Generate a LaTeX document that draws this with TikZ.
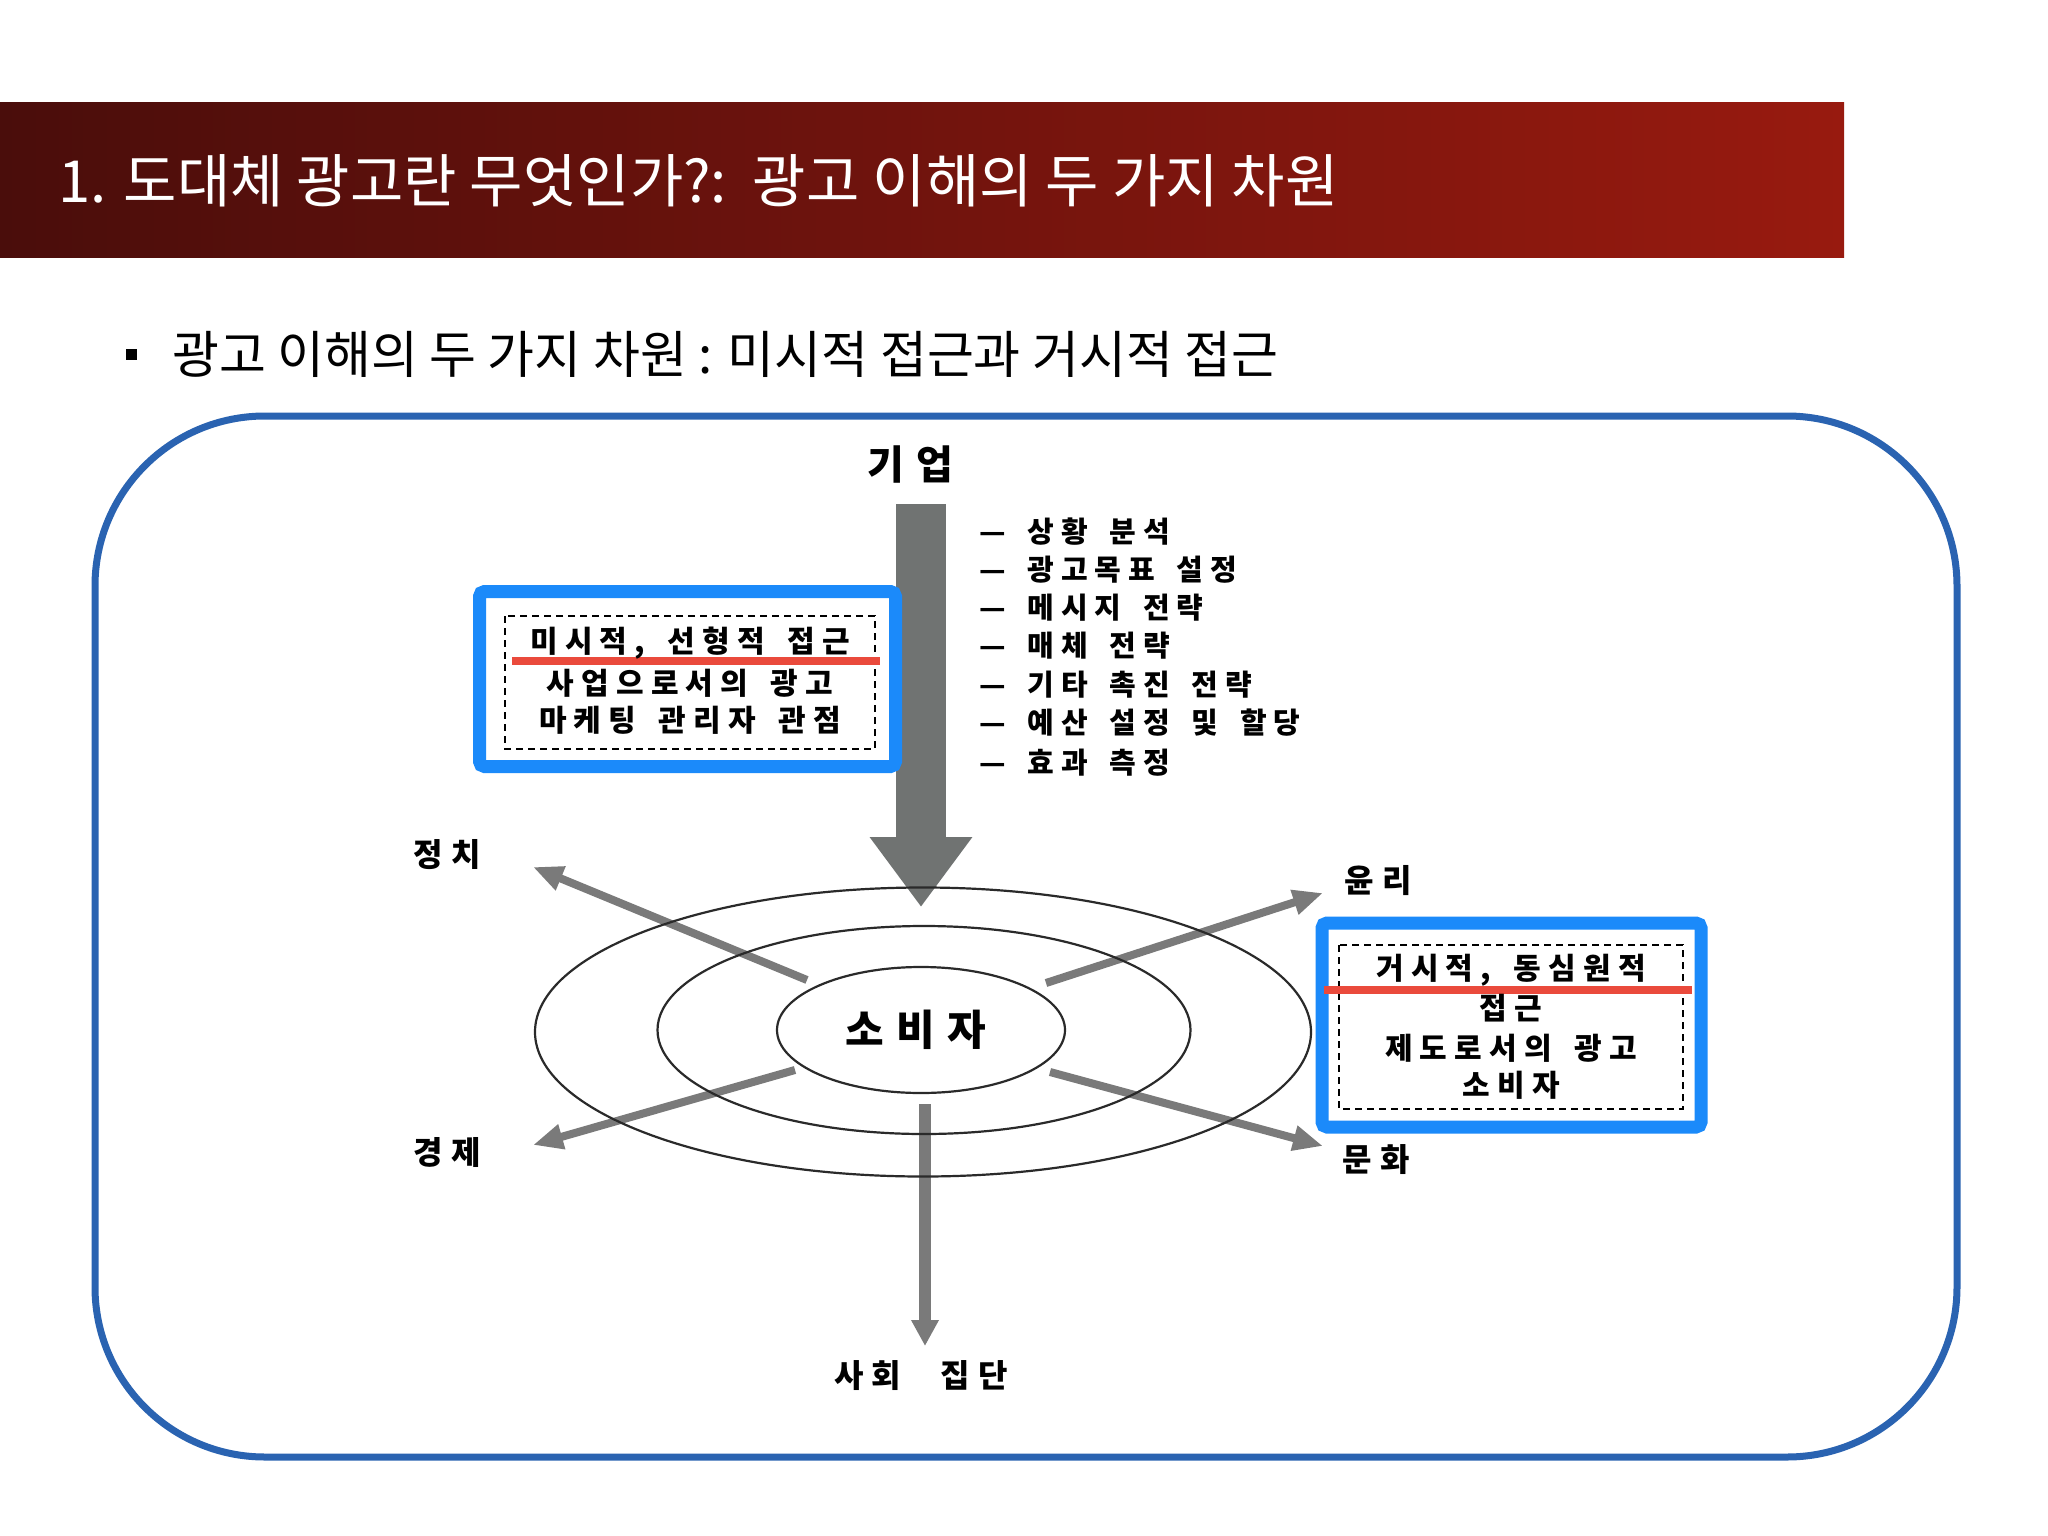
\documentclass[tikz,border=0pt]{standalone}
\usepackage{fontspec}
\usetikzlibrary{arrows.meta,shapes.geometric}
\newfontfamily\kr{Noto Sans CJK KR}
\newfontfamily\krs{Noto Sans CJK KR}[LetterSpace=24,WordSpace=1.6]
\newfontfamily\krx{Noto Sans CJK KR}[LetterSpace=25,WordSpace=2.6]
\newfontfamily\krw{Noto Sans CJK KR}[LetterSpace=30]
\definecolor{barL}{HTML}{4A0D0B}
\definecolor{barR}{HTML}{981A0F}
\definecolor{frameblue}{HTML}{2A63B1}
\definecolor{boxblue}{HTML}{1B8AFA}
\definecolor{redline}{HTML}{EA4A3C}
\definecolor{arrowgray}{HTML}{707372}
\definecolor{thingray}{HTML}{7A7A7A}
\definecolor{ringcol}{HTML}{2A2A2A}
\begin{document}
\begin{tikzpicture}[x=1pt,y=-1pt,
  lbl/.style={inner sep=0pt, font=\krs\bfseries\fontsize{30}{35}\selectfont},
  sidelbl/.style={inner sep=0pt, font=\krx\bfseries\fontsize{32}{37}\selectfont},
  biglbl/.style={inner sep=0pt, font=\krw\bfseries\fontsize{40}{46}\selectfont},
  listitem/.style={inner sep=0pt, anchor=west, font=\krs\bfseries\fontsize{29}{34}\selectfont},
  ring/.style={ellipse, draw=ringcol, line width=2.2pt, inner sep=0pt},
  thinarrow/.style={draw=thingray, line width=8pt, -{Triangle[length=30pt,width=24pt]}},
  bluebox/.style={draw=boxblue, line width=13pt, rounded corners=5pt, fill=white},
  dotbox/.style={draw=black, line width=2.6pt, dash pattern=on 7pt off 5pt},
  redbar/.style={draw=redline, line width=8pt}]
% background / bounding box
\fill[white] (0,0) rectangle (2048,1536);
\useasboundingbox (0,0) rectangle (2048,1536);
% title bar
\shade[left color=barL, right color=barR] (0,103) rectangle (1844,257);
\node[anchor=west, inner sep=0pt, text=white, font=\kr\fontsize{58}{68}\selectfont] (title) at (58,181) {1. 도대체 광고란 무엇인가?:\ \ 광고 이해의 두 가지 차원};
% subtitle
\node[fill=black, minimum size=11pt, inner sep=0pt] (bullet) at (131,354) {};
\node[anchor=west, inner sep=0pt, font=\kr\fontsize{51}{60}\selectfont] (subtitle) at (172,354) {광고 이해의 두 가지 차원 : 미시적 접근과 거시적 접근};
% frame
\node[draw=frameblue, line width=7pt, rounded corners=170pt, minimum width=1862pt, minimum height=1041pt, inner sep=0pt] (frame) at (1026,936.5) {};
% coordinates for arrows
\coordinate (bigTop) at (921,504);
\coordinate (bigTip) at (921,907);
\coordinate (polTail) at (807,980);
\coordinate (polTip) at (533,867);
\coordinate (ecoTail) at (795,1070);
\coordinate (ecoTip) at (533,1145);
\coordinate (ethTail) at (1046,983);
\coordinate (ethTip) at (1323,893);
\coordinate (culTail) at (1050,1072);
\coordinate (culTip) at (1323,1146);
\coordinate (socTail) at (925,1104);
\coordinate (socTip) at (925,1346);
% big arrow
\draw[arrowgray, line width=50pt, -{Triangle[length=70pt,width=98pt]}] (bigTop) -- (bigTip);
% thin arrows
\draw[thinarrow] (polTail) -- (polTip);
\draw[thinarrow] (ecoTail) -- (ecoTip);
\draw[thinarrow] (ethTail) -- (ethTip);
\draw[thinarrow] (culTail) -- (culTip);
\draw[draw=thingray, line width=12pt, -{Triangle[length=26pt,width=26pt]}] (socTail) -- (socTip);
% rings
\node[ring, minimum width=776pt, minimum height=289pt] (ringOuter) at (923,1032) {};
\node[ring, minimum width=533pt, minimum height=208pt] (ringMid) at (924,1030) {};
\node[ring, minimum width=288pt, minimum height=126pt] (ringInner) at (921,1030) {};
\node[biglbl, font=\krw\bfseries\fontsize{42}{48}\selectfont] (consumer) at (916,1030) {소비자};
% labels
\node[biglbl] (firm) at (910,464) {기업};
\node[sidelbl] (politics) at (447,855) {정치};
\node[sidelbl] (economy) at (447,1152) {경제};
\node[sidelbl] (ethics) at (1378,881) {윤리};
\node[sidelbl] (culture) at (1376,1160) {문화};
\node[sidelbl] (society) at (921,1376) {사회 집단};
% list
\node[listitem] (l1) at (979,532) {— 상황 분석};
\node[listitem] (l2) at (979,570) {— 광고목표 설정};
\node[listitem] (l3) at (979,608) {— 메시지 전략};
\node[listitem] (l4) at (979,646) {— 매체 전략};
\node[listitem] (l5) at (979,685) {— 기타 촉진 전략};
\node[listitem] (l6) at (979,723) {— 예산 설정 및 할당};
\node[listitem] (l7) at (979,763) {— 효과 측정};
% left box (micro)
\draw[bluebox] (479.5,591.5) rectangle (895.5,766.5);
\draw[dotbox] (505,616) rectangle (875,749);
\draw[redbar] (512,661) -- (880,661);
\node[lbl] (m1) at (690,643) {미시적, 선형적 접근};
\node[lbl] (m2) at (690,683) {사업으로서의 광고};
\node[lbl] (m3) at (690,720) {마케팅 관리자 관점};
% right box (macro)
\draw[bluebox] (1322,923) rectangle (1701,1127);
\draw[dotbox] (1339,945) rectangle (1683,1109);
\draw[redbar] (1324,990) -- (1692,990);
\node[lbl] (r1) at (1511,970) {거시적, 동심원적};
\node[lbl] (r2) at (1511,1008) {접근};
\node[lbl] (r3) at (1511,1048) {제도로서의 광고};
\node[lbl] (r4) at (1511,1085) {소비자};
\end{tikzpicture}
\end{document}
